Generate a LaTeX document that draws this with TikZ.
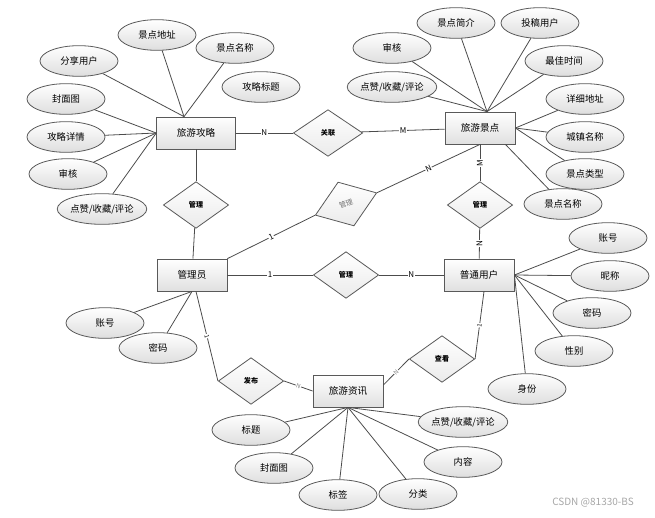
\documentclass[tikz,border=0pt]{standalone}
\usepackage{fontspec}
\setmainfont{Noto Sans CJK SC}
\usepackage{tikz}
\usetikzlibrary{shapes.geometric, positioning, calc}

\begin{document}
\begin{tikzpicture}[
    x=0.75pt, y=-0.75pt,
    line width=0.6pt, draw=black!70,
    entity/.style={draw=black!65, rectangle, minimum width=52.5pt, minimum height=24pt, inner sep=0pt, align=center, top color=white, bottom color=black!12, font=\fontsize{7.2}{8}\selectfont},
    attribute/.style={draw=black!65, ellipse, minimum width=58.5pt, minimum height=23pt, inner sep=0pt, align=center, top color=white, bottom color=black!13, font=\fontsize{7}{8}\selectfont},
    relation/.style={draw=black!65, diamond, minimum width=49pt, minimum height=35pt, inner sep=0pt, align=center, top color=white, bottom color=black!8, font=\fontsize{5.3}{6}\selectfont\bfseries},
    card/.style={fill=white, inner sep=0.4pt, font=\fontsize{6}{7}\selectfont},
    wm/.style={text=black!35, font=\fontsize{7.5}{8}\selectfont}
]
    \useasboundingbox (0,0) rectangle (655,517);

    % ================= ENTITIES =================
    \node[entity, minimum width=59pt] (GL) at (196,133) {旅游攻略};
    \node[entity] (JD) at (480,128) {旅游景点};
    \node[entity] (GLY) at (192,275) {管理员};
    \node[entity] (PT) at (479,275) {普通用户};
    \node[entity] (ZX) at (348,391) {旅游资讯};

    % ================= RELATIONSHIPS =================
    \node[relation, minimum width=52pt] (GuanLian) at (328,133) {关联};
    \node[relation] (GuanL1) at (196,205) {管理};
    \node[relation, rotate=20, text=black!55, font=\fontsize{5.3}{6}\selectfont] (GuanL2) at (346,204) {管理};
    \node[relation] (GuanL3) at (480,205) {管理};
    \node[relation] (GuanL4) at (346,275) {管理};
    \node[relation] (FaBu) at (251,381) {发布};
    \node[relation] (ChaKan) at (442,359) {查看};

    % ================= CONNECTIONS =================
    \draw (GL) -- (GuanLian) node[midway, card] {N};
    \draw (GuanLian) -- (JD) node[midway, card] {M};
    \draw (GL) -- (GuanL1);
    \draw (GuanL1) -- (GLY);
    \draw (GLY.north east) -- (GuanL2.west) node[midway, sloped, card] {1};
    \draw (GuanL2.east) -- (JD.south) node[midway, sloped, card] {N};
    \draw (JD) -- (GuanL3) node[midway, rotate=90, card] {M};
    \draw (GuanL3) -- (PT) node[midway, rotate=90, card] {N};
    \draw (GLY) -- (GuanL4) node[midway, card] {1};
    \draw (GuanL4) -- (PT) node[midway, card] {N};
    \draw ($(GLY.south)+(4,0)$) -- (FaBu.west) node[midway, sloped, card, font=\fontsize{4.5}{5}\selectfont] {1};
    \draw (FaBu.east) -- (ZX.west) node[midway, sloped, card, text=black!50, font=\fontsize{4.5}{5}\selectfont] {N};
    \draw ($(PT.south)+(5,0)$) -- (ChaKan.east) node[midway, sloped, card, font=\fontsize{4.5}{5}\selectfont] {1};
    \draw (ChaKan.west) -- ($(ZX.east)+(0,-6)$) node[midway, sloped, card, text=black!50, font=\fontsize{4.5}{5}\selectfont] {N};

    % ================= 旅游攻略 ATTRIBUTES =================
    \coordinate (GLtop) at ($(GL.north)+(-12,0)$);
    \node[attribute] (gl1) at (157,35) {景点地址};
    \node[attribute] (gl2) at (235,48) {景点名称};
    \node[attribute] (gl3) at (79,61) {分享用户};
    \node[attribute] (gl4) at (261,87) {攻略标题};
    \node[attribute] (gl5) at (66,99) {封面图};
    \node[attribute] (gl6) at (66,137) {攻略详情};
    \node[attribute] (gl7) at (68,174) {审核};
    \node[attribute] (gl8) at (102,209) {点赞/收藏/评论};
    \draw (gl1) -- (GLtop);
    \draw (gl2) -- (GLtop);
    \draw (gl3) -- (GLtop);
    \draw (gl5) -- (GL.west);
    \draw (gl6) -- (GL.west);
    \draw (gl7) -- (GL.west);
    \draw (gl8) -- (GL.west);

    % ================= 旅游景点 ATTRIBUTES =================
    \coordinate (JDtop) at ($(JD.north)+(7,0)$);
    \coordinate (JDbot) at ($(JD.south east)+(-10,0)$);
    \node[attribute] (jd1) at (456,23) {景点简介};
    \node[attribute] (jd2) at (540,23) {投稿用户};
    \node[attribute] (jd3) at (392,48) {审核};
    \node[attribute] (jd4) at (564,61) {最佳时间};
    \node[attribute] (jd5) at (392,87) {点赞/收藏/评论};
    \node[attribute] (jd6) at (585,99) {详细地址};
    \node[attribute] (jd7) at (585,137) {城镇名称};
    \node[attribute] (jd8) at (585,174) {景点类型};
    \node[attribute] (jd9) at (563,204) {景点名称};
    \draw (jd1) -- (JDtop);
    \draw (jd2) -- (JDtop);
    \draw (jd3) -- (JDtop);
    \draw (jd4) -- (JDtop);
    \draw (jd5) -- (JDtop);
    \draw (jd6) -- (JD.east);
    \draw (jd7) -- (JD.east);
    \draw (jd8) -- (JD.east);
    \draw (jd9) -- (JDbot);

    % ================= 管理员 ATTRIBUTES =================
    \node[attribute] (gly1) at (105,323) {账号};
    \node[attribute] (gly2) at (158,348) {密码};
    \draw (gly1) -- (GLY.south);
    \draw (gly2) -- (GLY.south);

    % ================= 普通用户 ATTRIBUTES =================
    \node[attribute] (pt1) at (608,238) {账号};
    \node[attribute] (pt2) at (610,276) {昵称};
    \node[attribute] (pt3) at (592,313) {密码};
    \node[attribute] (pt4) at (574,351) {性别};
    \node[attribute] (pt5) at (527,389) {身份};
    \draw (pt1) -- (PT.east);
    \draw (pt2) -- (PT.east);
    \draw (pt3) -- (PT.east);
    \draw (pt4) -- (PT.east);
    \draw (pt5) -- (PT.east);

    % ================= 旅游资讯 ATTRIBUTES =================
    \node[attribute] (zx1) at (251,430) {标题};
    \node[attribute] (zx2) at (274,468) {封面图};
    \node[attribute] (zx3) at (338,495) {标签};
    \node[attribute] (zx4) at (418,494) {分类};
    \node[attribute] (zx5) at (463,462) {内容};
    \node[attribute] (zx6) at (463,422) {点赞/收藏/评论};
    \foreach \a in {zx1,zx2,zx3,zx4,zx5,zx6}
        \draw (\a) -- (ZX.south);

    % watermark
    \node[wm] (csdn) at (593,503) {CSDN @81330-BS};

\end{tikzpicture}
\end{document}
